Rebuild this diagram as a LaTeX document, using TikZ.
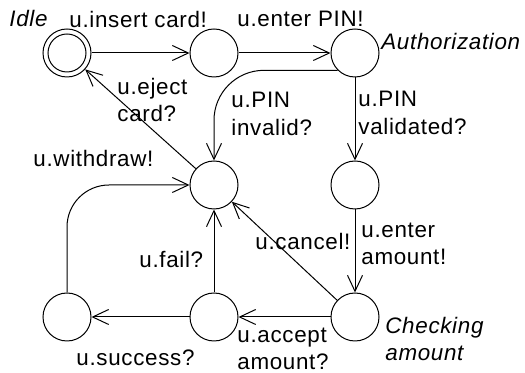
\documentclass[tikz,border=0pt]{standalone}
\usepackage{fontspec}
\setmainfont{Liberation Sans}[LetterSpace=3]
\usetikzlibrary{arrows.meta}
\begin{document}
\begin{tikzpicture}[x=0.5pt,y=-0.5pt,
  every node/.style={font=\fontsize{11.2pt}{13.6pt}\selectfont},
  state/.style={draw,circle,minimum size=24pt,inner sep=0pt,line width=0.5pt},
  lbl/.style={inner sep=0pt,align=left,anchor=west},
  tag/.style={lbl,font=\fontsize{11.2pt}{13.6pt}\selectfont\itshape},
  trans/.style={draw,line width=0.5pt,-{Straight Barb[length=8pt,width=7.5pt,line width=0.5pt]}}]
  \useasboundingbox (0,0) rectangle (525,373);

  % states (the initial one has an inner ring)
  \node[state] (idle) at (67,53) {};
  \node[state,minimum size=19pt] (idlering) at (idle) {};
  \node[state] (card) at (214,53) {};
  \node[state] (auth) at (355,53) {};
  \node[state] (valid) at (355,185) {};
  \node[state] (menu) at (214,185) {};
  \node[state] (check) at (355,317) {};
  \node[state] (accept) at (214,317) {};
  \node[state] (done) at (67,317) {};

  % state names
  \node[tag] (tidle) at (9,19) {Idle};
  \node[tag] (tauth) at (381,41) {Authorization};
  \node[tag] (tcheck) at (385,339) {Checking\\amount};

  % transitions
  \draw[trans] (idle) -- (card);
  \draw[trans] (card) -- (auth);
  \draw[trans,rounded corners=25pt] (auth.225) -| (menu.north);
  \draw[trans] (auth) -- (valid);
  \draw[trans] (valid) -- (check);
  \draw[trans] (check) -- (menu);
  \draw[trans] (check) -- (accept);
  \draw[trans] (accept) -- (menu);
  \draw[trans] (accept) -- (done);
  \draw[trans,rounded corners=21pt] (done.north) |- (menu.west);
  \draw[trans] (menu) -- (idle);

  % transition labels
  \node[lbl] (linsert) at (69,19) {u.insert card!};
  \node[lbl] (lpin) at (237,19) {u.enter PIN!};
  \node[lbl] (leject) at (117,100) {u.eject\\card?};
  \node[lbl] (linvalid) at (231,114) {u.PIN\\invalid?};
  \node[lbl] (lvalid) at (358,113) {u.PIN\\validated?};
  \node[lbl] (lwithdraw) at (33,158) {u.withdraw!};
  \node[lbl] (lamount) at (361,244) {u.enter\\amount!};
  \node[lbl] (lcancel) at (255,241) {u.cancel!};
  \node[lbl] (lfail) at (139,259) {u.fail?};
  \node[lbl] (laccept) at (237,349) {u.accept\\amount?};
  \node[lbl] (lsuccess) at (76,358) {u.success?};
\end{tikzpicture}
\end{document}
